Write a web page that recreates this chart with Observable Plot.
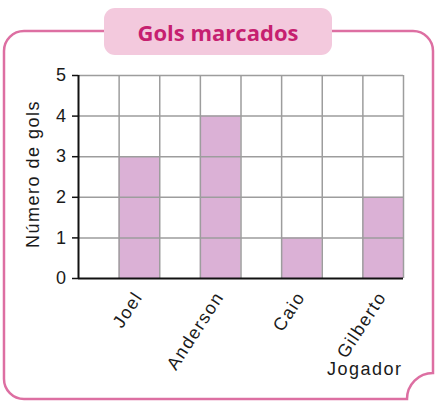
<!DOCTYPE html>
<html>
<head>
<meta charset="utf-8">
<script src="https://cdn.jsdelivr.net/npm/d3@7"></script>
<script src="https://cdn.jsdelivr.net/npm/@observablehq/plot@0.6"></script>
<style>
  html, body { margin: 0; padding: 0; background: white; }
  #wrap { position: relative; width: 440px; height: 404px; overflow: hidden; }
  #deco { position: absolute; left: 0; top: 0; }
  #title {
    position: absolute; left: 104px; top: 8px; width: 228px; height: 47px;
    background: #f3c9dd; border-radius: 11px;
    display: flex; align-items: center; justify-content: center;
    font-family: "Open Sans", sans-serif; font-weight: 700; font-size: 22px;
    color: #c61f70; letter-spacing: 0px;
  }
  #chart { position: absolute; left: 0; top: 0; }
  g[aria-label="player-labels"] text { letter-spacing: 1px; }
</style>
</head>
<body>
<div id="wrap">
  <svg id="deco" width="440" height="404"></svg>
  <div id="chart"></div>
  <div id="title">Gols marcados</div>
</div>
<script>
// ---- data ----
const titleText = "Gols marcados";
const players = ["Joel", "Anderson", "Caio", "Gilberto"];
const goals = [3, 4, 1, 2];
const yTicks = [0, 1, 2, 3, 4, 5];
const yLabel = "Número de gols";
const xLabel = "Jogador";

// each player occupies every second column of an 8-column grid
const data = players.map((p, i) => ({player: p, goals: goals[i], col: 2 * i + 1}));
const nCols = players.length * 2;

// ---- decorative frame ----
const x0 = 4, y0 = 31, x1 = 433, y1 = 399, r = 20, R = 26;
const framePath = `M${x0 + r},${y0} H${x1 - r} A${r},${r} 0 0 1 ${x1},${y0 + r} V${y1 - R} A${R},${R} 0 0 0 ${x1 - R},${y1} H${x0 + r} A${r},${r} 0 0 1 ${x0},${y1 - r} V${y0 + r} A${r},${r} 0 0 1 ${x0 + r},${y0} Z`;
d3.select("#deco").append("path")
  .attr("d", framePath)
  .attr("fill", "none")
  .attr("stroke", "#dd6fa2")
  .attr("stroke-width", 2.5);

document.getElementById("title").textContent = titleText;

// ---- chart ----
const chart = Plot.plot({
  width: 440,
  height: 404,
  marginLeft: 78,
  marginRight: 37,
  marginTop: 75,
  marginBottom: 126,
  style: {
    background: "transparent",
    fontFamily: "'Liberation Sans', Arial, sans-serif",
    fontSize: "18px",
    letterSpacing: "1.5px",
    color: "#1a1a1a"
  },
  x: {domain: [0, nCols], axis: null},
  y: {domain: [0, 5], axis: null},
  marks: [
    Plot.rectY(data, {x1: "col", x2: d => d.col + 1, y1: 0, y2: "goals", fill: "#dbb1d6"}),
    Plot.gridX(d3.range(1, nCols + 1), {stroke: "#9d9d9d", strokeOpacity: 1, strokeWidth: 1.5}),
    Plot.gridY(yTicks.slice(1), {stroke: "#9d9d9d", strokeOpacity: 1, strokeWidth: 1.5}),
    Plot.axisY(yTicks, {tickSize: 6, tickPadding: 5, stroke: "#111", strokeWidth: 1.5, fill: "#1a1a1a", tickFormat: d => String(d), label: null}),
    Plot.ruleX([0], {stroke: "#111", strokeWidth: 2}),
    Plot.ruleY([0], {stroke: "#111", strokeWidth: 2}),
    Plot.text(data, {x: d => d.col + 0.5, y: 0, text: "player", rotate: -57, textAnchor: "end", dx: -1, dy: 15, fill: "#1a1a1a", ariaLabel: "player-labels"}),
    Plot.text([yLabel], {frameAnchor: "left", rotate: -90, textAnchor: "middle", dx: -45, dy: -3, fill: "#1a1a1a"}),
    Plot.text([xLabel], {frameAnchor: "bottom-right", textAnchor: "end", dx: -1, dy: 96, fill: "#1a1a1a"})
  ]
});
document.getElementById("chart").appendChild(chart);
</script>
</body>
</html>
